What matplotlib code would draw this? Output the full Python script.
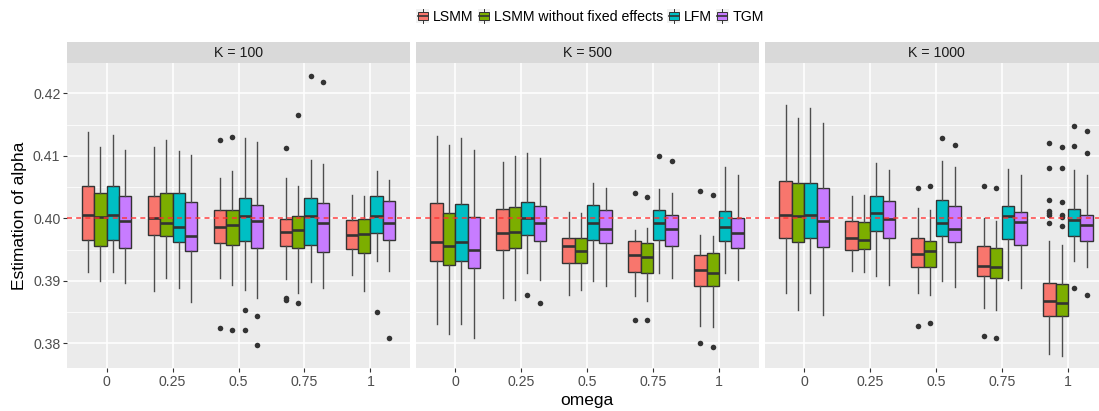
import matplotlib
matplotlib.use("Agg")
import matplotlib.pyplot as plt
from matplotlib.patches import Rectangle, Patch
from matplotlib.lines import Line2D
from matplotlib.legend_handler import HandlerBase

plt.rcParams['font.family'] = ['Liberation Sans', 'DejaVu Sans']

omega = ['0', '0.25', '0.5', '0.75', '1']
methods = ['LSMM', 'LSMM without fixed effects', 'LFM', 'TGM']
colors = ['#F8766D', '#7CAE00', '#00BFC4', '#C77CFF']
panel_titles = ['K = 100', 'K = 500', 'K = 1000']
true_alpha = 0.40

# box summaries per omega: [lower whisker, q1, median, q3, upper whisker]
lsmm_k100 = [[0.3914, 0.3965, 0.4006, 0.4052, 0.4138],
             [0.3884, 0.3973, 0.4000, 0.4036, 0.4114],
             [0.3905, 0.3960, 0.3986, 0.4013, 0.4065],
             [0.3903, 0.3955, 0.3978, 0.3999, 0.4065],
             [0.3909, 0.3951, 0.3973, 0.3998, 0.4037]]
lsmm_nofe_k100 = [[0.3900, 0.3956, 0.4002, 0.4041, 0.4114],
                  [0.3904, 0.3971, 0.3992, 0.4040, 0.4125],
                  [0.3894, 0.3957, 0.3990, 0.4014, 0.4075],
                  [0.3880, 0.3953, 0.3982, 0.4004, 0.4052],
                  [0.3884, 0.3945, 0.3975, 0.3999, 0.4036]]
lfm_k100 = [[0.3914, 0.3966, 0.4006, 0.4052, 0.4134],
            [0.3888, 0.3962, 0.3986, 0.4041, 0.4108],
            [0.3886, 0.3963, 0.4003, 0.4032, 0.4128],
            [0.3898, 0.3958, 0.4003, 0.4033, 0.4094],
            [0.3931, 0.3976, 0.4003, 0.4035, 0.4075]]
tgm_k100 = [[0.3896, 0.3952, 0.3996, 0.4036, 0.4109],
            [0.3866, 0.3947, 0.3972, 0.4026, 0.4102],
            [0.3873, 0.3953, 0.3995, 0.4022, 0.4122],
            [0.3888, 0.3946, 0.3992, 0.4024, 0.4087],
            [0.3915, 0.3966, 0.3993, 0.4027, 0.4062]]

lsmm_k500 = [[0.3831, 0.3931, 0.3962, 0.4024, 0.4131],
             [0.3872, 0.3950, 0.3977, 0.4015, 0.4090],
             [0.3878, 0.3929, 0.3955, 0.3968, 0.4010],
             [0.3875, 0.3914, 0.3941, 0.3963, 0.3982],
             [0.3828, 0.3891, 0.3917, 0.3941, 0.3974]]
lsmm_nofe_k500 = [[0.3815, 0.3925, 0.3955, 0.4009, 0.4117],
                  [0.3869, 0.3953, 0.3978, 0.4018, 0.4100],
                  [0.3886, 0.3928, 0.3947, 0.3969, 0.4009],
                  [0.3867, 0.3913, 0.3938, 0.3960, 0.3984],
                  [0.3826, 0.3891, 0.3913, 0.3944, 0.3972]]
lfm_k500 = [[0.3831, 0.3932, 0.3962, 0.4023, 0.4128],
            [0.3912, 0.3973, 0.4000, 0.4026, 0.4105],
            [0.3900, 0.3966, 0.3992, 0.4022, 0.4057],
            [0.3913, 0.3966, 0.3992, 0.4013, 0.4047],
            [0.3912, 0.3963, 0.3986, 0.4011, 0.4082]]
tgm_k500 = [[0.3809, 0.3920, 0.3949, 0.4002, 0.4110],
            [0.3901, 0.3963, 0.3992, 0.4019, 0.4096],
            [0.3892, 0.3960, 0.3983, 0.4013, 0.4048],
            [0.3904, 0.3956, 0.3983, 0.4006, 0.4040],
            [0.3902, 0.3953, 0.3977, 0.4001, 0.4069]]

lsmm_k1000 = [[0.3880, 0.3969, 0.4005, 0.4060, 0.4181],
              [0.3916, 0.3950, 0.3968, 0.3995, 0.4035],
              [0.3881, 0.3922, 0.3943, 0.3968, 0.4016],
              [0.3856, 0.3908, 0.3924, 0.3955, 0.4000],
              [0.3783, 0.3844, 0.3868, 0.3897, 0.3964]]
lsmm_nofe_k1000 = [[0.3853, 0.3962, 0.4004, 0.4057, 0.4160],
                   [0.3914, 0.3951, 0.3966, 0.3994, 0.4038],
                   [0.3878, 0.3922, 0.3947, 0.3964, 0.4013],
                   [0.3854, 0.3904, 0.3922, 0.3952, 0.3995],
                   [0.3779, 0.3843, 0.3864, 0.3895, 0.3957]]
lfm_k1000 = [[0.3880, 0.3969, 0.4005, 0.4057, 0.4177],
             [0.3907, 0.3980, 0.4008, 0.4035, 0.4089],
             [0.3900, 0.3971, 0.3993, 0.4030, 0.4091],
             [0.3902, 0.3967, 0.4004, 0.4019, 0.4079],
             [0.3932, 0.3972, 0.3997, 0.4015, 0.4078]]
tgm_k1000 = [[0.3845, 0.3954, 0.3996, 0.4049, 0.4152],
             [0.3893, 0.3968, 0.3999, 0.4027, 0.4078],
             [0.3890, 0.3962, 0.3983, 0.4020, 0.4082],
             [0.3889, 0.3958, 0.3994, 0.4010, 0.4069],
             [0.3922, 0.3963, 0.3989, 0.4006, 0.4070]]

# outlying estimates per omega
lsmm_k100_out = [[], [], [0.4125, 0.3825], [0.4112, 0.3872, 0.3869], []]
lsmm_nofe_k100_out = [[], [], [0.4130, 0.3821], [0.4165, 0.3864], []]
lfm_k100_out = [[], [], [0.3854, 0.3821], [0.4228], [0.3850]]
tgm_k100_out = [[], [], [0.3843, 0.3798], [0.4218], [0.3809]]

lsmm_k500_out = [[], [], [], [0.4040, 0.3838], [0.4043, 0.3800]]
lsmm_nofe_k500_out = [[], [], [], [0.4034, 0.3837], [0.4038, 0.3794]]
lfm_k500_out = [[], [0.3877], [], [0.4100], []]
tgm_k500_out = [[], [0.3865], [], [0.4092], []]

lsmm_k1000_out = [[], [], [0.4049, 0.3828], [0.4052, 0.3811],
                  [0.4120, 0.4080, 0.4030, 0.4011, 0.4009, 0.4005, 0.3993]]
lsmm_nofe_k1000_out = [[], [], [0.4051, 0.3832], [0.4049, 0.3808],
                       [0.4114, 0.4080, 0.4026, 0.4005, 0.4002, 0.3987]]
lfm_k1000_out = [[], [], [0.4128], [], [0.4148, 0.4116, 0.3888]]
tgm_k1000_out = [[], [], [0.4117], [], [0.4139, 0.4105, 0.3877]]

panels = [
    ([lsmm_k100, lsmm_nofe_k100, lfm_k100, tgm_k100],
     [lsmm_k100_out, lsmm_nofe_k100_out, lfm_k100_out, tgm_k100_out]),
    ([lsmm_k500, lsmm_nofe_k500, lfm_k500, tgm_k500],
     [lsmm_k500_out, lsmm_nofe_k500_out, lfm_k500_out, tgm_k500_out]),
    ([lsmm_k1000, lsmm_nofe_k1000, lfm_k1000, tgm_k1000],
     [lsmm_k1000_out, lsmm_nofe_k1000_out, lfm_k1000_out, tgm_k1000_out]),
]


class BoxKey(HandlerBase):
    # small boxplot glyph for the legend keys
    def create_artists(self, legend, orig_handle, xdescent, ydescent,
                       width, height, fontsize, trans):
        x0, y0 = -xdescent, -ydescent
        cx = x0 + width / 2
        bg = Rectangle((x0, y0 - 1), width, height + 2, fc='#F2F2F2', ec='none',
                       transform=trans)
        wl = Line2D([cx, cx], [y0 - 1, y0 + height + 1], color='#333333', lw=0.7,
                    transform=trans)
        box = Rectangle((x0 + 1, y0 + height * 0.18), width - 2, height * 0.64,
                        fc=orig_handle.get_facecolor(), ec='#333333', lw=0.7,
                        transform=trans)
        med = Line2D([x0 + 1, x0 + width - 1], [y0 + height / 2] * 2,
                     color='#333333', lw=1.2, transform=trans)
        return [bg, wl, box, med]


W, H = 1099, 411
fig = plt.figure(figsize=(W / 100, H / 100), dpi=100)

panel_left = [67.0, 415.6, 764.6]
panel_w = 343.0
top, bottom = 63.0, 368.3
strip_top = 42.0

box_w = 0.75 / 4
for p, (stats_sets, out_sets) in enumerate(panels):
    ax = fig.add_axes([panel_left[p] / W, 1 - bottom / H,
                       panel_w / W, (bottom - top) / H])
    ax.set_facecolor('#EBEBEB')
    for s in ax.spines.values():
        s.set_visible(False)
    ax.set_axisbelow(True)

    for m in range(4):
        bstats = []
        pos = []
        for i in range(len(omega)):
            lo, q1, med, q3, hi = stats_sets[m][i]
            bstats.append(dict(whislo=lo, q1=q1, med=med, q3=q3, whishi=hi,
                               fliers=out_sets[m][i]))
            pos.append(i + (m - 1.5) * box_w)
        bp = ax.bxp(bstats, positions=pos, widths=box_w, patch_artist=True,
                    showcaps=False, manage_ticks=False,
                    boxprops=dict(facecolor=colors[m], edgecolor='#333333', lw=1.0),
                    medianprops=dict(color='#333333', lw=1.9),
                    whiskerprops=dict(color='#4D4D4D', lw=1.0),
                    flierprops=dict(marker='o', markerfacecolor='#333333',
                                    markeredgecolor='none', markersize=4.0))

    ax.axhline(true_alpha, color='#FF3030', lw=1.2, ls=(0, (3, 2.5)), alpha=0.85,
               zorder=5)

    ax.set_xlim(-0.6, len(omega) - 0.4)
    ax.set_ylim(0.376, 0.42485)
    ax.set_xticks(range(len(omega)))
    ax.set_xticklabels(omega)
    ax.set_yticks([0.38, 0.39, 0.40, 0.41, 0.42])
    ax.set_yticks([0.385, 0.395, 0.405, 0.415], minor=True)
    ax.grid(True, which='major', color='white', lw=1.1)
    ax.grid(True, which='minor', axis='y', color='white', lw=0.55)
    ax.tick_params(axis='both', which='major', length=2.75, width=0.8,
                   color='#333333', labelcolor='#4D4D4D', labelsize=10.2, pad=2)
    ax.tick_params(axis='y', which='minor', length=0)
    if p == 0:
        ax.set_yticklabels(['0.38', '0.39', '0.40', '0.41', '0.42'])
    else:
        ax.tick_params(axis='y', length=0, labelleft=False)

    # facet strip
    sax = fig.add_axes([panel_left[p] / W, 1 - top / H,
                        panel_w / W, (top - strip_top) / H])
    sax.set_facecolor('#D9D9D9')
    sax.set_xticks([])
    sax.set_yticks([])
    for s in sax.spines.values():
        s.set_visible(False)
    sax.text(0.5, 0.48, panel_titles[p], ha='center', va='center',
             fontsize=10.2, color='#1A1A1A', transform=sax.transAxes)

fig.text(20 / W, 1 - 215.6 / H, 'Estimation of alpha', rotation=90,
         ha='center', va='center', fontsize=12.5, color='black')
fig.text(587 / W, 1 - 400 / H, 'omega', ha='center', va='center',
         fontsize=12.5, color='black')

handles = [Patch(facecolor=c, label=l) for c, l in zip(colors, methods)]
fig.legend(handles=handles, loc='center', bbox_to_anchor=(590 / W, 1 - 17 / H),
           ncol=4, frameon=False, fontsize=10.2, handler_map={Patch: BoxKey()},
           handlelength=0.9, handleheight=0.9, handletextpad=0.25,
           columnspacing=0.3, borderpad=0, borderaxespad=0)

fig.savefig('out.png', dpi=100)
